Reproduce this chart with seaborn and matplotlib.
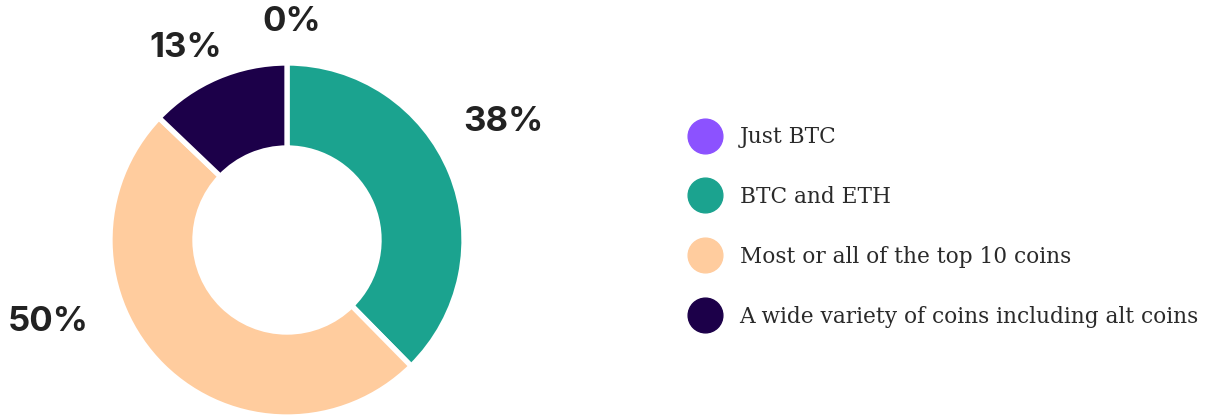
import matplotlib
matplotlib.use("Agg")
import matplotlib.pyplot as plt
import seaborn as sns
from matplotlib.lines import Line2D

# ---- data ----
categories = ["Just BTC", "BTC and ETH", "Most or all of the top 10 coins",
              "A wide variety of coins including alt coins"]
values = [0, 38, 50, 13]
pct_labels = ["0%", "38%", "50%", "13%"]
colors = ["#8C52FF", "#1BA38F", "#FFCC9E", "#1C0049"]

# ---- layout (pixel units, origin bottom-left) ----
W, H = 1208, 416
center = (287, 176)
radius = 177
hole_frac = 0.48
label_pos = [(292, 394), (503, 294), (48, 94), (186, 368)]

sns.set_theme(style="white")
plt.rcParams["font.family"] = ["DejaVu Sans"]

fig = plt.figure(figsize=(W / 100, H / 100), dpi=100)
ax = fig.add_axes([0, 0, 1, 1])
pal = sns.color_palette(colors)
ax.pie(values, colors=pal, startangle=90, counterclock=False,
       center=center, radius=radius, frame=True,
       wedgeprops=dict(width=radius * hole_frac, edgecolor="white", linewidth=3.8))
ax.set_xlim(0, W)
ax.set_ylim(0, H)
ax.set_aspect("equal")
ax.axis("off")

for (x, y), t in zip(label_pos, pct_labels):
    ax.text(x, y, t, ha="center", va="center", fontsize=25, fontweight="bold",
            color="#222222", family=["Inter", "DejaVu Sans"])

handles = [Line2D([0], [0], marker="o", linestyle="none", markersize=25,
                  markerfacecolor=c, markeredgecolor=c) for c in pal]
leg = ax.legend(handles, categories, loc="center left",
                bbox_to_anchor=(668 / W, 189 / H), frameon=False,
                prop={"family": "DejaVu Serif", "size": 15.6},
                labelspacing=1.75, handletextpad=0.8, handlelength=1.6,
                labelcolor="#2a2a2a")

fig.savefig("out.png", dpi=100)
